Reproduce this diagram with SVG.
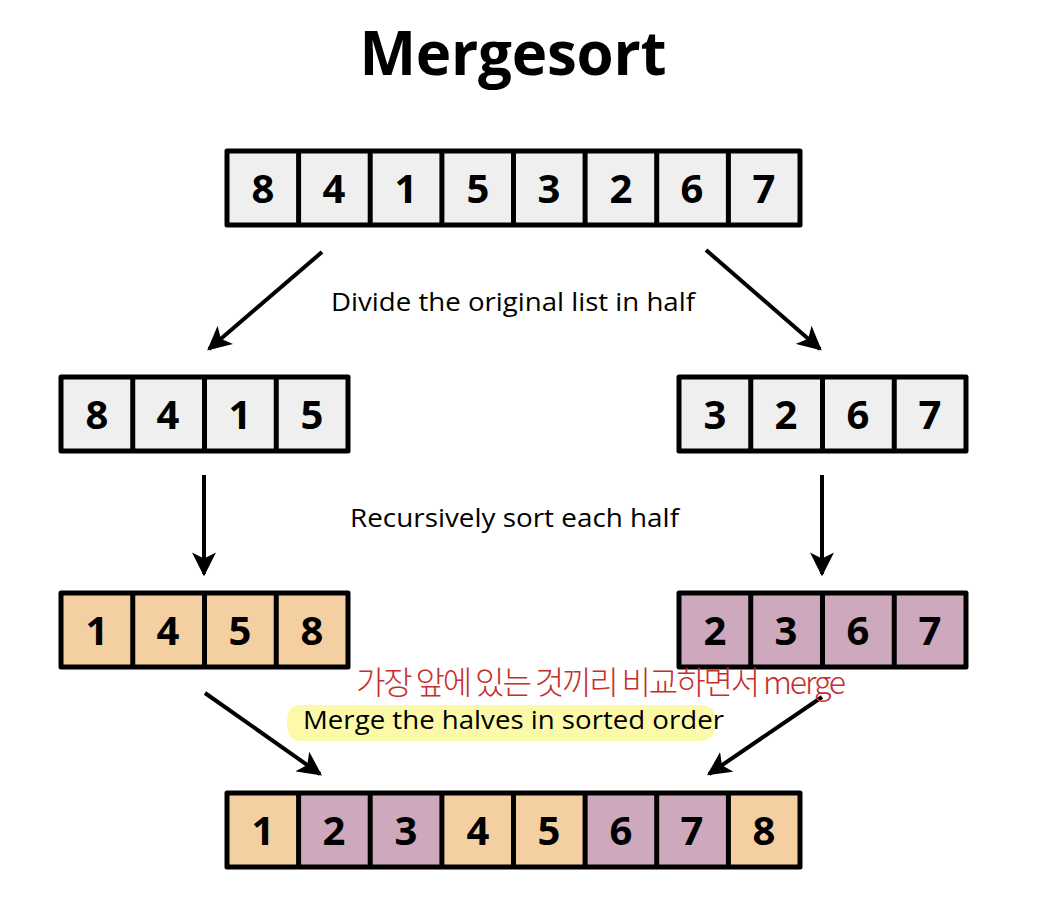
<svg xmlns="http://www.w3.org/2000/svg" width="1052" height="906" viewBox="0 0 1052 906">
<style>
.cell{stroke:#000;stroke-width:5;stroke-linejoin:round}
.g{fill:#efefef}.o{fill:#f4cfa1}.p{fill:#cea8bc}
.num{font-family:"Open Sans","Liberation Sans",sans-serif;font-weight:bold;font-size:40px;text-anchor:middle;fill:#000}
.lbl{font-family:"Open Sans","Liberation Sans",sans-serif;font-size:25.5px;fill:#000}
.con{stroke:#000;stroke-width:4;fill:none;marker-end:url(#ah)}
.hw{font-family:"Noto Sans CJK KR",sans-serif;font-weight:300;font-size:32px;fill:#c62e2a}
</style>
<defs>
<marker id="ah" viewBox="0 0 10 10" refX="9" refY="5" markerWidth="6" markerHeight="6" orient="auto" markerUnits="strokeWidth">
<path d="M0,0 L10,5 L0,10 L2.5,5 Z" fill="#000"/>
</marker>
</defs>
<rect width="1052" height="906" fill="#fff"/>
<text x="513" y="75" font-family="Open Sans,Liberation Sans,sans-serif" font-weight="bold" font-size="60" text-anchor="middle" textLength="307">Mergesort</text>

<g id="top">
<rect class="cell g" x="227" y="151" width="573" height="74"/>
<path class="cell" d="M298.6,151V225M370.2,151V225M441.9,151V225M513.5,151V225M585.1,151V225M656.7,151V225M728.4,151V225"/>
<g class="num"><text x="263" y="203">8</text><text x="334" y="203">4</text><text x="406" y="203">1</text><text x="478" y="203">5</text><text x="549" y="203">3</text><text x="621" y="203">2</text><text x="692" y="203">6</text><text x="764" y="203">7</text></g>
</g>

<g id="left-half">
<rect class="cell g" x="61" y="377" width="287" height="74"/>
<path class="cell" d="M132.75,377V451M204.5,377V451M276.25,377V451"/>
<g class="num"><text x="97" y="429">8</text><text x="168" y="429">4</text><text x="240" y="429">1</text><text x="312" y="429">5</text></g>
</g>

<g id="right-half">
<rect class="cell g" x="679" y="377" width="287" height="74"/>
<path class="cell" d="M750.75,377V451M822.5,377V451M894.25,377V451"/>
<g class="num"><text x="715" y="429">3</text><text x="786" y="429">2</text><text x="858" y="429">6</text><text x="930" y="429">7</text></g>
</g>

<g id="left-sorted">
<rect class="cell o" x="61" y="593" width="287" height="74"/>
<path class="cell" d="M132.75,593V667M204.5,593V667M276.25,593V667"/>
<g class="num"><text x="97" y="645">1</text><text x="168" y="645">4</text><text x="240" y="645">5</text><text x="312" y="645">8</text></g>
</g>

<g id="right-sorted">
<rect class="cell p" x="679" y="593" width="287" height="74"/>
<path class="cell" d="M750.75,593V667M822.5,593V667M894.25,593V667"/>
<g class="num"><text x="715" y="645">2</text><text x="786" y="645">3</text><text x="858" y="645">6</text><text x="930" y="645">7</text></g>
</g>

<g id="merged">
<rect class="o" x="227" y="793" width="573" height="74"/>
<rect class="p" x="298.6" y="793" width="143.3" height="74"/>
<rect class="p" x="585.1" y="793" width="143.3" height="74"/>
<rect class="cell" fill="none" x="227" y="793" width="573" height="74"/>
<path class="cell" d="M298.6,793V867M370.2,793V867M441.9,793V867M513.5,793V867M585.1,793V867M656.7,793V867M728.4,793V867"/>
<g class="num"><text x="263" y="845">1</text><text x="334" y="845">2</text><text x="406" y="845">3</text><text x="478" y="845">4</text><text x="549" y="845">5</text><text x="621" y="845">6</text><text x="692" y="845">7</text><text x="764" y="845">8</text></g>
</g>

<g id="connectors">
<path class="con" d="M322,252L209,349"/>
<path class="con" d="M706,250L820,349"/>
<path class="con" d="M204,475V574"/>
<path class="con" d="M822,475V574"/>
<path class="con" d="M205,693L320,774"/>
<path class="con" d="M822,697L709,774"/>
</g>

<g id="labels">
<text class="lbl" x="331" y="311" textLength="364" lengthAdjust="spacingAndGlyphs">Divide the original list in half</text>
<text class="lbl" x="350" y="527" textLength="329" lengthAdjust="spacingAndGlyphs">Recursively sort each half</text>
<path d="M300,705 H700 Q716,705 716,722 Q716,741 700,741 H300 Q287,741 287,723 Q287,705 300,705 Z" fill="#fcfaa9"/>
<text class="lbl" x="303" y="729" textLength="421" lengthAdjust="spacingAndGlyphs">Merge the halves in sorted order</text>
</g>

<g id="note">
<text class="hw" x="356" y="694" textLength="490">가장 앞에 있는 것끼리 비교하면서  merge</text>
</g>
</svg>
